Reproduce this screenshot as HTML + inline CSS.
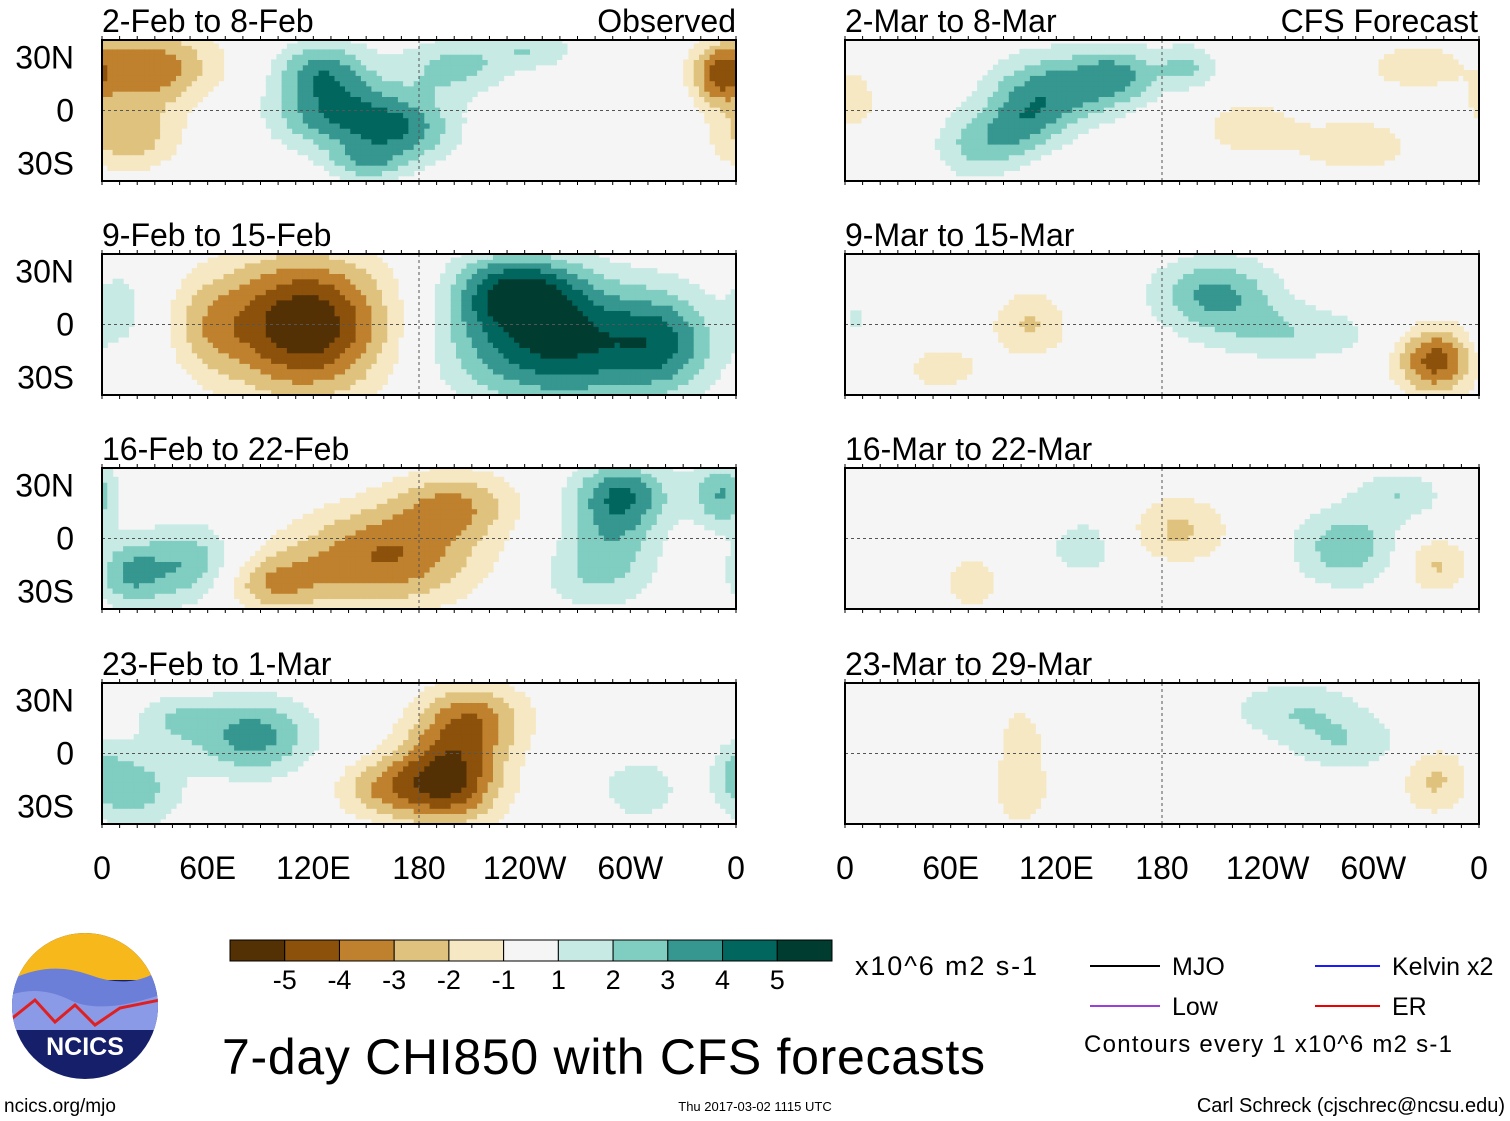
<!DOCTYPE html>
<html><head><meta charset="utf-8">
<style>
body{margin:0;background:#fff;}
svg{display:block;font-family:"Liberation Sans",sans-serif;}
</style></head>
<body>
<svg id="chart" width="1510" height="1121" viewBox="0 0 1510 1121">
<g id="panels"></g>
<g id="colorbar"></g>
<g>
  <line x1="1090" y1="966" x2="1160" y2="966" stroke="#000" stroke-width="2"/>
  <text x="1172" y="975" font-size="25">MJO</text>
  <line x1="1090" y1="1006" x2="1160" y2="1006" stroke="#9a3fd8" stroke-width="2"/>
  <text x="1172" y="1015" font-size="25">Low</text>
  <line x1="1315" y1="966" x2="1380" y2="966" stroke="#1a1aff" stroke-width="2"/>
  <text x="1392" y="975" font-size="25">Kelvin x2</text>
  <line x1="1315" y1="1006" x2="1380" y2="1006" stroke="#e00" stroke-width="2"/>
  <text x="1392" y="1015" font-size="25">ER</text>
  <text x="1084" y="1052" font-size="24" textLength="368">Contours every 1 x10^6 m2 s-1</text>
</g>
<text x="855" y="975" font-size="27" textLength="182">x10^6 m2 s-1</text>
<text x="222" y="1074" font-size="50" textLength="763">7-day CHI850 with CFS forecasts</text>
<g>
  <defs><clipPath id="lc"><circle cx="85" cy="1006" r="73"/></clipPath></defs>
  <g clip-path="url(#lc)">
    <rect x="10" y="930" width="150" height="160" fill="#16206a"/>
    <rect x="10" y="930" width="150" height="50" fill="#f6b81a"/>
    <path d="M10 980 Q50 960 90 975 T160 970 L160 1010 L10 1010Z" fill="#6b7ed8"/>
    <path d="M10 995 Q40 985 70 1000 T160 995 L160 1030 L10 1030Z" fill="#8a9ae6"/>
    <path d="M10 1020 L35 1000 L55 1022 L75 1005 L95 1025 L120 1008 L160 1000" fill="none" stroke="#e02020" stroke-width="3"/>
  </g>
  <text x="85" y="1055" font-size="25" font-weight="bold" fill="#fff" text-anchor="middle">NCICS</text>
</g>
<text x="4" y="1112" font-size="19">ncics.org/mjo</text>
<text x="755" y="1111" font-size="13" text-anchor="middle">Thu 2017-03-02 1115 UTC</text>
<text x="1505" y="1112" font-size="20" text-anchor="end">Carl Schreck (cjschrec@ncsu.edu)</text>
</svg>
<script>
const NS="http://www.w3.org/2000/svg";
const colors=["#543005","#8c510a","#bf812d","#dfc27d","#f6e8c3","#f5f5f5","#c7eae5","#80cdc1","#35978f","#01665e","#003c30"];
const cbLabels=["-5","-4","-3","-2","-1","1","2","3","4","5"];
const lonTicks=["0","60E","120E","180","120W","60W","0"];
const latTicks=["30N","0","30S"];
const titlesLeft=["2-Feb to 8-Feb","9-Feb to 15-Feb","16-Feb to 22-Feb","23-Feb to 1-Mar"];
const titlesRight=["2-Mar to 8-Mar","9-Mar to 15-Mar","16-Mar to 22-Mar","23-Mar to 29-Mar"];
// anomaly centers per panel: [lon, lat, amplitude, sigmaLon, sigmaLat]
const blobsL1=[[25,25,-3.8,28,16],[15,-15,-2.7,20,14],[350,20,-3,10,12],[130,0,3.5,25,16],[170,-10,3.4,22,14],[125,25,2.7,18,12],[200,25,2.3,22,12],[245,35,1.8,18,8],[150,-30,2,15,8]];
const blobsL2=[[115,0,-6,35,28],[60,0,-1.5,15,20],[260,-10,5.2,45,25],[235,20,4,25,15],[320,-10,2.5,20,20],[10,10,1.5,10,15]];
const blobsL3=[[160,-10,-4,38,20],[200,20,-2.7,25,14],[95,-25,-2.7,22,12],[50,-15,3,20,16],[15,-20,2.7,14,14],[295,25,4,20,14],[352,25,3,12,14],[280,-20,1.9,24,16],[290,0,1.5,18,14]];
const blobsL4=[[85,10,3.5,25,16],[20,-20,2.4,18,16],[195,-15,-5.5,22,18],[210,20,-3.5,22,15],[155,-20,-2.2,18,12],[305,-20,1.6,18,14],[360,-10,1.6,10,14],[40,20,1.6,15,10]];
const blobsR1=[[115,10,3.5,24,16],[155,20,3,18,12],[75,-20,2.2,18,14],[195,25,2.1,12,9],[230,-10,-1.7,20,12],[290,-20,-1.7,24,12],[325,25,-1.7,22,10],[5,5,-1.6,10,12],[100,-10,1.8,15,12]];
const blobsR2=[[210,18,3.2,25,15],[255,-5,1.8,35,12],[335,-20,-4.5,16,14],[105,0,-2.1,16,14],[55,-25,-1.5,18,10],[5,0,1.3,8,14]];
const blobsR3=[[285,-5,2.7,22,16],[315,25,1.8,18,10],[135,-5,1.7,14,12],[190,5,-2.2,20,14],[335,-15,-2.2,14,12],[72,-25,-1.7,12,12]];
const blobsR4=[[255,25,1.8,28,12],[285,5,1.7,24,12],[335,-15,-2.2,14,14],[100,-20,-1.8,12,16],[100,10,-1.6,8,12]];
const left=[blobsL1,blobsL2,blobsL3,blobsL4], right=[blobsR1,blobsR2,blobsR3,blobsR4];
const rowsY=[40,254,468,683], PH=141, PW=634;
function field(bl,lon,lat){let v=0;for(const b of bl){let d=Math.abs(lon-b[0]);if(d>180)d=360-d;v+=b[2]*Math.exp(-0.5*((d/b[3])**2+((lat-b[1])/b[4])**2));}return v;}
function el(tag,attrs,parent){const e=document.createElementNS(NS,tag);for(const k in attrs)e.setAttribute(k,attrs[k]);parent.appendChild(e);return e;}
const panels=document.getElementById('panels');
function drawPanel(x0,y0,bl,title,i,side){
  const g=el('g',{},panels);
  
  
  const xs=lon=>x0+lon/360*PW, ys=lat=>y0+(40-lat)/80*PH;
  el('rect',{x:x0,y:y0,width:PW,height:PH,fill:'#f5f5f5'},g);
  const step=3;
  for(let lon=0;lon<360;lon+=step){for(let lat=-40;lat<40;lat+=step){
    const v=field(bl,lon+step/2,lat+step/2);
    if(Math.abs(v)<1)continue;
    const idx=5+Math.sign(v)*Math.min(5,Math.floor(Math.abs(v)));
    const r=el('rect',{x:xs(lon).toFixed(1),y:ys(Math.min(40,lat+step)).toFixed(1),width:(step/360*PW+0.6).toFixed(1),height:(step/80*PH+0.6).toFixed(1),fill:colors[idx]},g);
    
    
  }}
  el('line',{x1:x0,x2:x0+PW,y1:ys(0),y2:ys(0),stroke:'#555','stroke-dasharray':'3,3'},g);
  el('line',{x1:xs(180),x2:xs(180),y1:y0,y2:y0+PH,stroke:'#555','stroke-dasharray':'3,3'},g);
  el('rect',{x:x0,y:y0,width:PW,height:PH,fill:'none',stroke:'#000','stroke-width':2},g);
  for(let k=0;k<=36;k++){const tx=x0+k*PW/36;el('line',{x1:tx,x2:tx,y1:y0,y2:y0-4,stroke:'#000'},g);el('line',{x1:tx,x2:tx,y1:y0+PH,y2:y0+PH+4,stroke:'#000'},g);}
  const t=el('text',{x:x0,y:y0-8,'font-size':32},g);t.textContent=title;
  
  
  if(side==='left'){[30,0,-30].forEach((lat,j)=>{const l=el('text',{x:74,y:ys(lat)+11,'font-size':32,'text-anchor':'end'},g);l.textContent=latTicks[j];
    
    });}
}
for(let i=0;i<4;i++){drawPanel(102,rowsY[i],left[i],titlesLeft[i],i,'left');drawPanel(845,rowsY[i],right[i],titlesRight[i],i,'right');}
function hdr(x,txt,name){const t=el('text',{x:x,y:32,'font-size':32,'text-anchor':'end'},panels);t.textContent=txt;
  
  }
hdr(736,'Observed','observed-label');hdr(1478,'CFS Forecast','forecast-label');
[102,845].forEach(x0=>{lonTicks.forEach((lb,k)=>{const t=el('text',{x:x0+k*PW/6,y:879,'font-size':32,'text-anchor':'middle'},panels);t.textContent=lb;
  
  });});
const cb=document.getElementById('colorbar');const cw=602/11;
colors.forEach((c,k)=>{const r=el('rect',{x:230+k*cw,y:940,width:cw,height:21,fill:c,stroke:'#000'},cb);
  
  });
cbLabels.forEach((lb,k)=>{const t=el('text',{x:230+(k+1)*cw,y:989,'font-size':27,'text-anchor':'middle'},cb);t.textContent=lb;
  
  });
</script>
</body></html>
